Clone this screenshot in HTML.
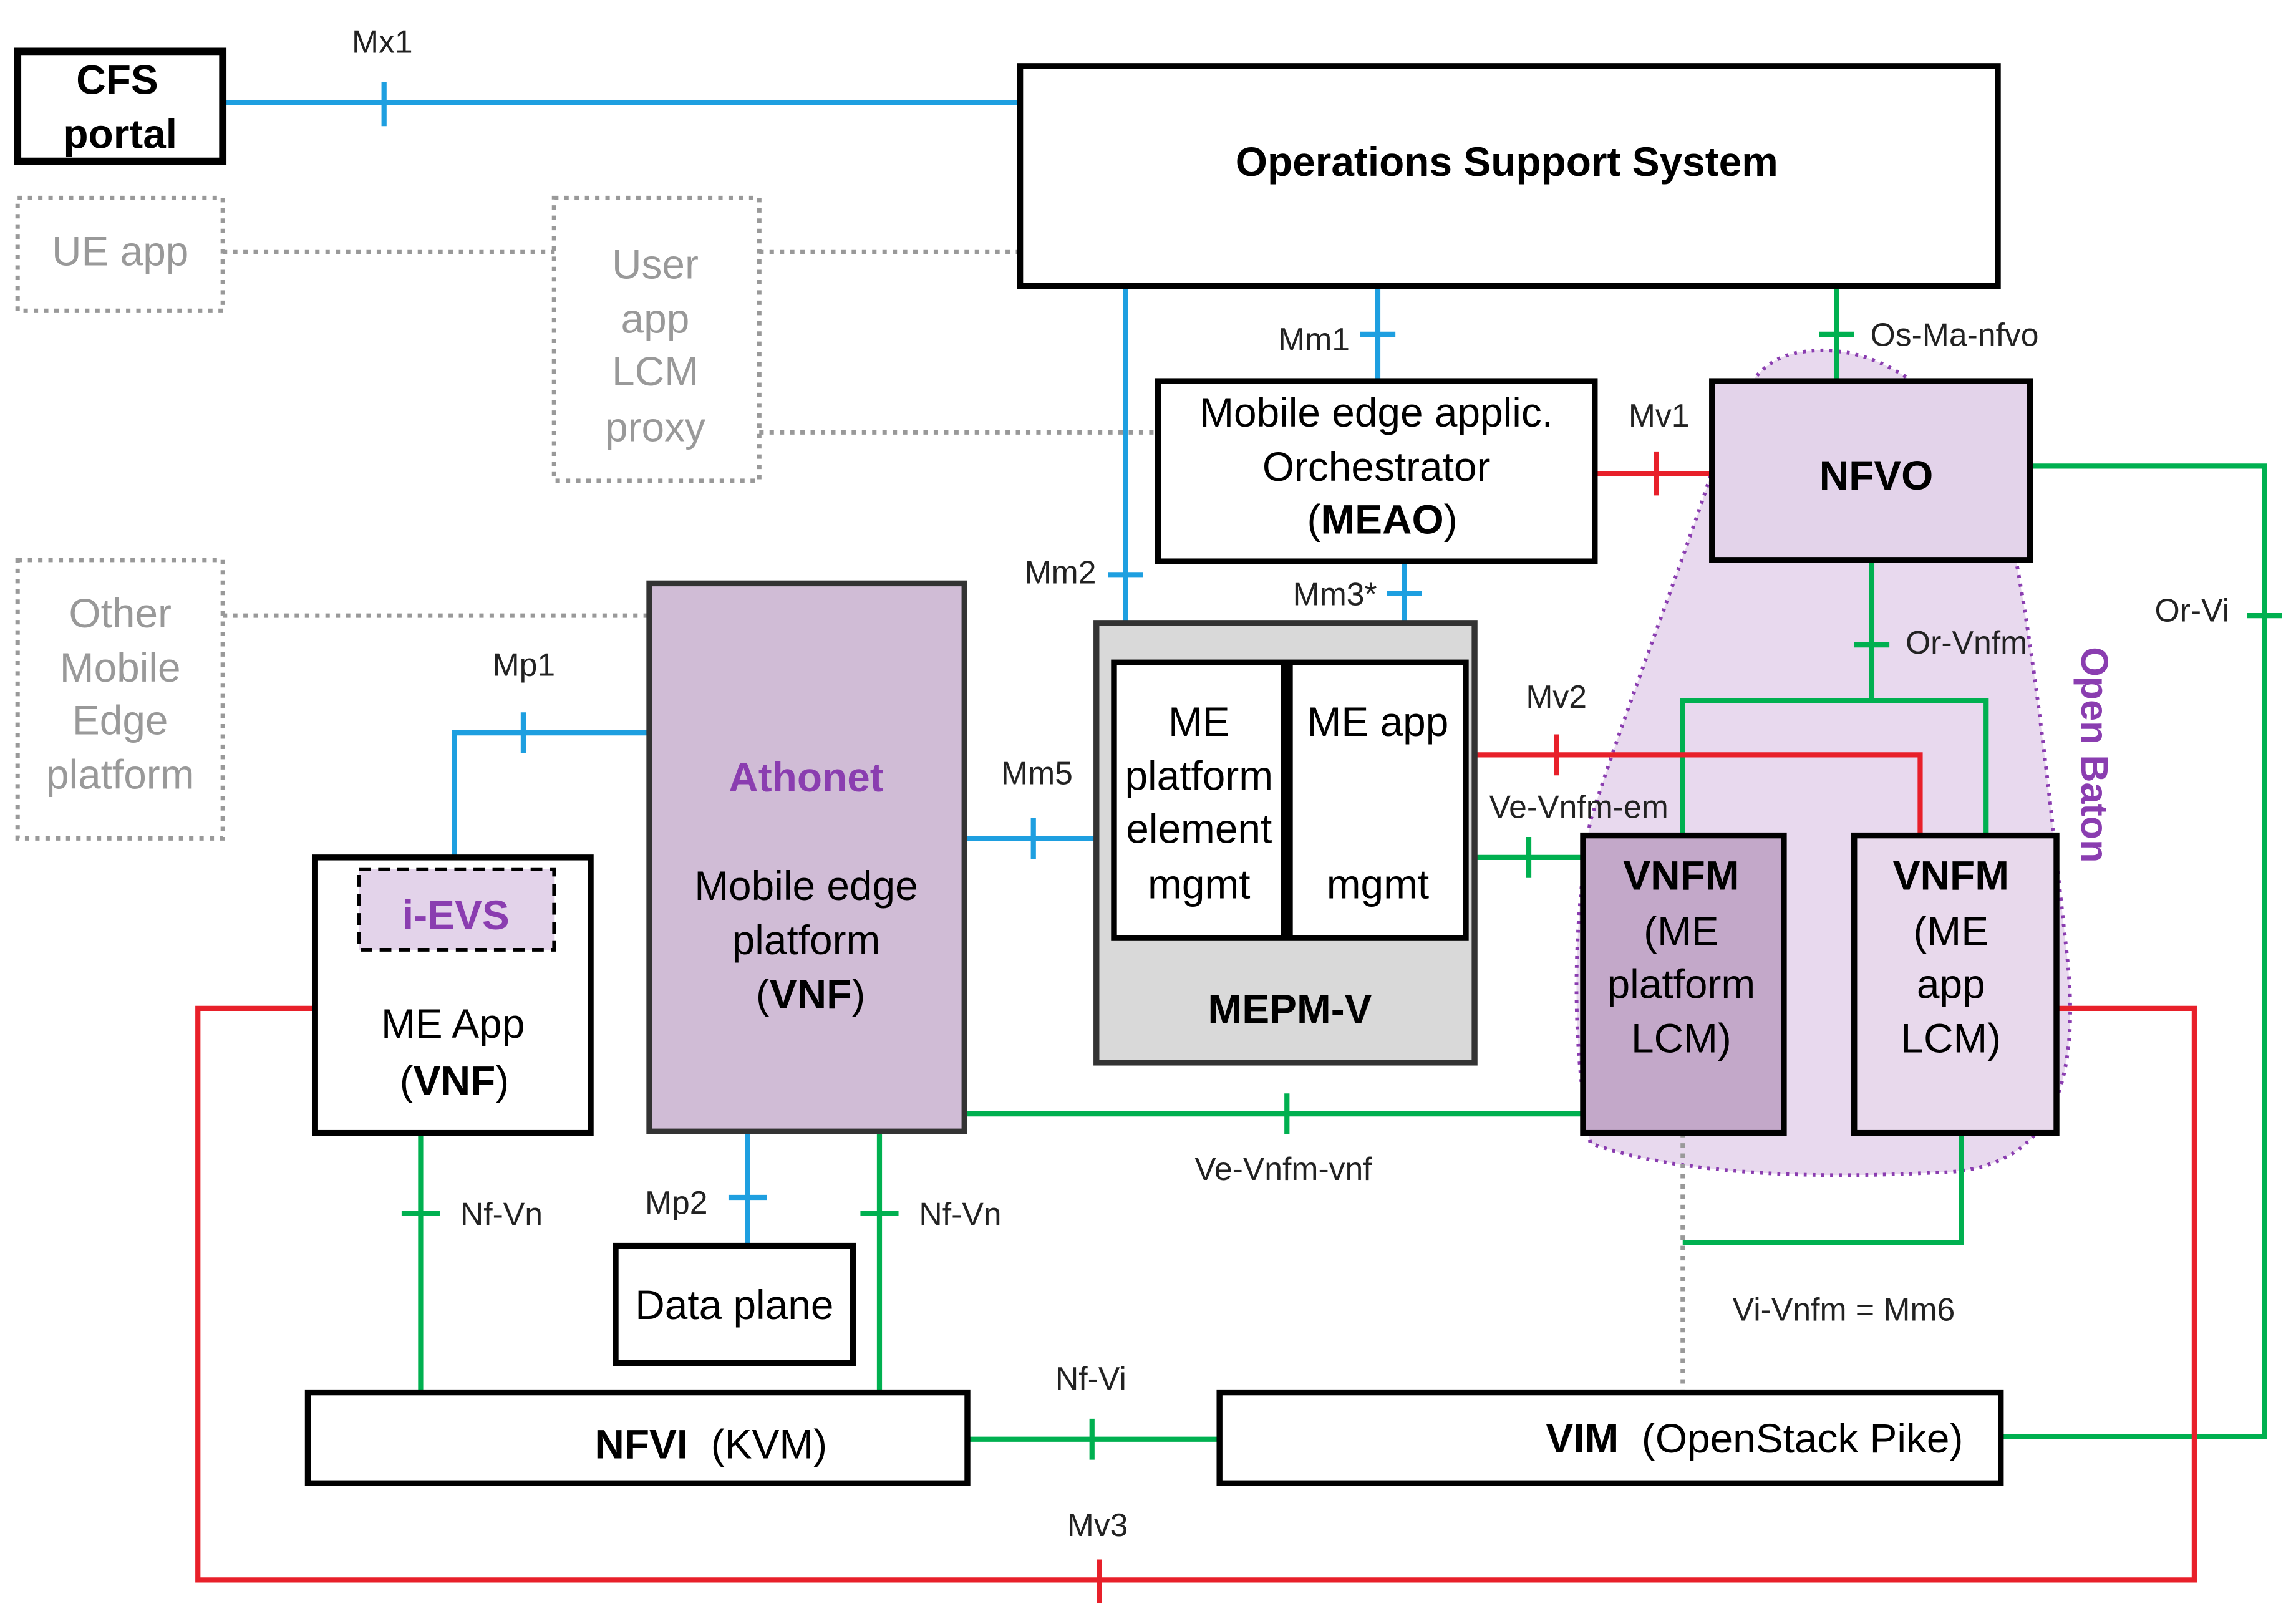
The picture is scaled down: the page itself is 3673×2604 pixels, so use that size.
<!DOCTYPE html>
<html><head><meta charset="utf-8"><style>
html,body{margin:0;padding:0;background:#fff;}
svg{display:block;}
text{font-family:"Liberation Sans",Arial,sans-serif;}
.b{font-size:28px;text-anchor:middle;fill:#000;}
.l{font-size:22px;fill:#222;}
.g{font-size:28px;text-anchor:middle;fill:#999;}
.p{fill:#8a3db0;}
</style></head><body>
<svg width="3673" height="2604" viewBox="0 0 1563 1108" xmlns="http://www.w3.org/2000/svg">
<rect width="1563" height="1108" fill="#fff"/>
<!-- Open Baton blob -->
<path d="M1230,240 C1300,230 1360,300 1375,380 C1390,460 1400,560 1410,650 C1420,740 1400,800 1320,800 C1230,805 1140,800 1085,780 C1070,700 1075,620 1085,560 C1110,480 1150,380 1175,300 C1190,260 1205,243 1230,240 Z" fill="#e8d9ee" stroke="#8a3db0" stroke-width="2.5" stroke-dasharray="2,4"/>
<text x="1420" y="515" transform="rotate(90 1420 515)" font-size="26" font-weight="bold" fill="#8a3db0" text-anchor="middle">Open Baton</text>

<g stroke="#999" stroke-width="3" stroke-dasharray="3,4" fill="none">
<line x1="152" y1="172" x2="378" y2="172"/>
<line x1="518" y1="172" x2="696" y2="172"/>
<line x1="518" y1="295" x2="790" y2="295"/>
<line x1="152" y1="420" x2="443" y2="420"/>
<line x1="1148" y1="773" x2="1148" y2="950"/>
<rect x="12" y="135" width="140" height="77"/>
<rect x="378" y="135" width="140" height="193"/>
<rect x="12" y="382" width="140" height="190"/>
</g>

<g stroke="#1e9fe0" stroke-width="3.5" fill="none">
<line x1="152" y1="70" x2="696" y2="70"/><line x1="262" y1="56" x2="262" y2="86"/>
<line x1="940" y1="195" x2="940" y2="260"/><line x1="928" y1="228" x2="952" y2="228"/>
<line x1="768" y1="195" x2="768" y2="425"/><line x1="756" y1="392" x2="780" y2="392"/>
<line x1="958" y1="383" x2="958" y2="425"/><line x1="946" y1="405" x2="970" y2="405"/>
<polyline points="443,500 310,500 310,585"/><line x1="357" y1="486" x2="357" y2="514"/>
<line x1="658" y1="572" x2="748" y2="572"/><line x1="705" y1="558" x2="705" y2="586"/>
<line x1="510" y1="772" x2="510" y2="850"/><line x1="497" y1="817" x2="523" y2="817"/>
</g>
<g stroke="#00b050" stroke-width="3.5" fill="none">
<line x1="1253" y1="195" x2="1253" y2="260"/><line x1="1241" y1="228" x2="1265" y2="228"/>
<polyline points="1385,318 1545,318 1545,980 1365,980"/><line x1="1533" y1="420" x2="1557" y2="420"/>
<line x1="1277" y1="382" x2="1277" y2="478"/><line x1="1265" y1="440" x2="1289" y2="440"/>
<polyline points="1148,570 1148,478 1355,478 1355,570"/>
<line x1="1006" y1="585" x2="1080" y2="585"/><line x1="1043" y1="571" x2="1043" y2="599"/>
<line x1="658" y1="760" x2="1080" y2="760"/><line x1="878" y1="746" x2="878" y2="774"/>
<line x1="287" y1="773" x2="287" y2="950"/><line x1="274" y1="828" x2="300" y2="828"/>
<line x1="600" y1="773" x2="600" y2="950"/><line x1="587" y1="828" x2="613" y2="828"/>
<line x1="660" y1="982" x2="832" y2="982"/><line x1="745" y1="968" x2="745" y2="996"/>
<polyline points="1338,773 1338,848 1148,848"/>
</g>
<g stroke="#e8202a" stroke-width="3.5" fill="none">
<line x1="1088" y1="323" x2="1168" y2="323"/><line x1="1130" y1="308" x2="1130" y2="338"/>
<polyline points="1006,515 1310,515 1310,570"/><line x1="1062" y1="501" x2="1062" y2="529"/>
<polyline points="215,688 135,688 135,1078 1497,1078 1497,688 1403,688"/><line x1="750" y1="1064" x2="750" y2="1094"/>
</g>

<g stroke="#000" stroke-width="4" >
<rect x="12" y="35" width="140" height="75" fill="#fff" stroke-width="5"/>
<rect x="696" y="45" width="667" height="150" fill="#fff"/>
<rect x="790" y="260" width="298" height="123" fill="#fff"/>
<rect x="1168" y="260" width="217" height="122" fill="#e3d3ea"/>
<rect x="748" y="425" width="258" height="300" fill="#d9d9d9" stroke="#333"/>
<rect x="760" y="452" width="116" height="188" fill="#fff"/>
<rect x="880" y="452" width="120" height="188" fill="#fff"/>
<rect x="443" y="398" width="215" height="374" fill="#d0bcd6" stroke="#333"/>
<rect x="215" y="585" width="188" height="188" fill="#fff"/>
<rect x="1080" y="570" width="137" height="203" fill="#c3a8c9"/>
<rect x="1265" y="570" width="138" height="203" fill="#e8d9ec"/>
<rect x="420" y="850" width="162" height="80" fill="#fff"/>
<rect x="210" y="950" width="450" height="62" fill="#fff"/>
<rect x="832" y="950" width="533" height="62" fill="#fff"/>
</g>
<rect x="245" y="593" width="133" height="55" fill="#e3d3ea" stroke="#000" stroke-width="2.5" stroke-dasharray="8,5"/>

<text class="b" x="80" y="64" font-weight="bold">CFS</text>
<text class="b" x="82" y="101" font-weight="bold">portal</text>
<text class="b" x="1028" y="120" font-weight="bold">Operations Support System</text>
<text class="g" x="82" y="181">UE app</text>
<text class="g" x="447" y="190">User</text><text class="g" x="447" y="227">app</text><text class="g" x="447" y="263">LCM</text><text class="g" x="447" y="301">proxy</text>
<text class="g" x="82" y="428">Other</text><text class="g" x="82" y="465">Mobile</text><text class="g" x="82" y="501">Edge</text><text class="g" x="82" y="538">platform</text>
<text class="b" x="939" y="291">Mobile edge applic.</text><text class="b" x="939" y="328">Orchestrator</text>
<text class="b" x="943" y="364">(<tspan font-weight="bold">MEAO</tspan>)</text>
<text class="b" x="1280" y="334" font-weight="bold">NFVO</text>
<text class="b" x="818" y="502">ME</text><text class="b" x="818" y="539">platform</text><text class="b" x="818" y="575">element</text><text class="b" x="818" y="613">mgmt</text>
<text class="b" x="940" y="502">ME app</text><text class="b" x="940" y="613">mgmt</text>
<text class="b" x="880" y="698" font-weight="bold">MEPM-V</text>
<text class="b p" x="550" y="540" font-weight="bold" style="fill:#8a3db0">Athonet</text>
<text class="b" x="550" y="614">Mobile edge</text><text class="b" x="550" y="651">platform</text>
<text class="b" x="553" y="688">(<tspan font-weight="bold">VNF</tspan>)</text>
<text class="b p" x="311" y="634" font-weight="bold" style="fill:#8a3db0">i-EVS</text>
<text class="b" x="309" y="708">ME App</text>
<text class="b" x="310" y="747">(<tspan font-weight="bold">VNF</tspan>)</text>
<text class="b" x="1147" y="607" font-weight="bold">VNFM</text><text class="b" x="1147" y="645">(ME</text><text class="b" x="1147" y="681">platform</text><text class="b" x="1147" y="718">LCM)</text>
<text class="b" x="1331" y="607" font-weight="bold">VNFM</text><text class="b" x="1331" y="645">(ME</text><text class="b" x="1331" y="681">app</text><text class="b" x="1331" y="718">LCM)</text>
<text class="b" x="501" y="900">Data plane</text>
<text class="b" x="485" y="995" xml:space="preserve"><tspan font-weight="bold">NFVI</tspan>  (KVM)</text>
<text class="b" x="1197" y="991" xml:space="preserve"><tspan font-weight="bold">VIM</tspan>  (OpenStack Pike)</text>

<text class="l" x="240" y="36">Mx1</text>
<text class="l" x="872" y="239">Mm1</text>
<text class="l" x="1276" y="236">Os-Ma-nfvo</text>
<text class="l" x="1111" y="291">Mv1</text>
<text class="l" x="699" y="398">Mm2</text>
<text class="l" x="882" y="413">Mm3*</text>
<text class="l" x="1300" y="446">Or-Vnfm</text>
<text class="l" x="1470" y="424">Or-Vi</text>
<text class="l" x="336" y="461">Mp1</text>
<text class="l" x="1041" y="483">Mv2</text>
<text class="l" x="683" y="535">Mm5</text>
<text class="l" x="1016" y="558">Ve-Vnfm-em</text>
<text class="l" x="815" y="805">Ve-Vnfm-vnf</text>
<text class="l" x="314" y="836">Nf-Vn</text>
<text class="l" x="627" y="836">Nf-Vn</text>
<text class="l" x="440" y="828">Mp2</text>
<text class="l" x="1182" y="901">Vi-Vnfm = Mm6</text>
<text class="l" x="720" y="948">Nf-Vi</text>
<text class="l" x="728" y="1048">Mv3</text>
</svg>
</body></html>
